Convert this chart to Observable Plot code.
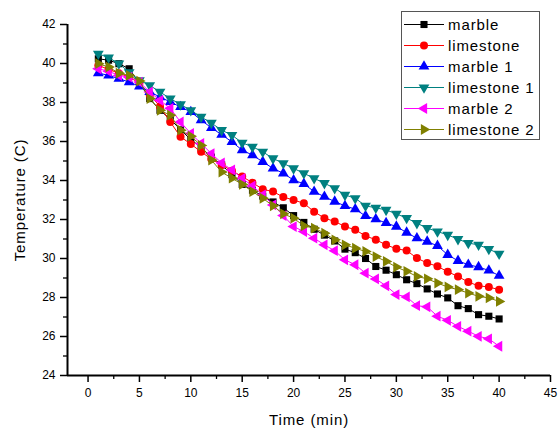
<!DOCTYPE html>
<html><head><meta charset="utf-8">
<script src="https://cdn.jsdelivr.net/npm/d3@7"></script>
<script src="https://cdn.jsdelivr.net/npm/@observablehq/plot@0.6"></script>
<style>
body{margin:0;background:#fff;}
#wrap{position:relative;width:558px;height:429px;font-family:"Liberation Sans",Arial,sans-serif;}
#legend{position:absolute;left:401px;top:11px;width:139px;height:129px;border:1px solid #555;background:#fff;box-sizing:border-box;padding-top:2px;}
.row{display:flex;align-items:center;height:21px;}
.row svg{margin-left:2px;margin-right:4px;}
.row span{font-size:15px;letter-spacing:0.9px;color:#000;}
</style></head><body><div id="wrap"></div>
<script>
const time = [1,2,3,4,5,6,7,8,9,10,11,12,13,14,15,16,17,18,19,20,21,22,23,24,25,26,27,28,29,30,31,32,33,34,35,36,37,38,39,40];
const seriesNames = ["marble","limestone","marble 1","limestone 1","marble 2","limestone 2"];
const colors = ["#000000","#ff0000","#0000ff","#008080","#ff00ff","#808000"];
const symbols = ["square","circle","triangle","triangle","triangle","triangle"];
const rotations = [0,0,0,180,-90,90];
const marble = [40.24,40.17,39.99,39.73,39.0,38.2,37.6,37.15,36.6,36.1,35.7,35.2,34.8,34.3,33.8,33.5,33.2,32.9,32.6,32.2,31.85,31.5,31.2,30.9,30.48,30.3,30.0,29.59,29.4,29.17,28.91,28.71,28.44,28.18,27.98,27.58,27.43,27.12,27.04,26.9];
const limestone = [39.9,39.7,39.5,39.3,39.0,38.4,37.8,37.0,36.24,35.87,35.47,35.1,34.8,34.5,34.2,33.89,33.55,33.43,33.15,33.0,32.83,32.4,32.07,31.9,31.64,31.47,31.16,30.96,30.7,30.5,30.41,30.02,29.77,29.6,29.32,29.08,28.79,28.6,28.54,28.4];
const marble1 = [39.51,39.39,39.22,39.05,38.83,38.55,38.28,38.03,37.77,37.52,37.1,36.7,36.35,35.98,35.56,35.3,34.96,34.62,34.37,34.02,33.83,33.43,33.17,32.92,32.7,32.53,32.18,32.02,31.82,31.64,31.33,31.04,30.87,30.65,30.19,29.88,29.68,29.56,29.39,29.12];
const limestone1 = [40.5,40.3,40.0,39.55,39.14,38.88,38.54,38.2,37.9,37.6,37.26,36.95,36.58,36.33,35.93,35.73,35.47,35.13,34.88,34.62,34.37,34.11,33.86,33.6,33.26,33.09,32.7,32.6,32.49,32.29,32.07,31.81,31.56,31.38,31.21,30.99,30.79,30.7,30.48,30.24];
const marble2 = [39.73,39.6,39.39,39.3,39.05,38.54,38.11,37.7,37.0,36.41,35.9,35.38,34.9,34.54,34.11,33.72,33.26,32.75,32.2,31.64,31.38,31.04,30.7,30.4,29.93,29.68,29.25,28.95,28.6,28.15,28.03,27.58,27.52,27.04,26.83,26.52,26.27,26.01,25.88,25.5];
const limestone2 = [39.99,39.82,39.5,39.39,39.1,38.2,37.6,37.35,36.58,36.27,35.8,35.05,34.43,34.12,33.8,33.43,33.09,32.7,32.29,32.07,31.67,31.56,31.3,30.96,30.7,30.53,30.36,30.1,29.85,29.56,29.34,29.08,28.96,28.74,28.54,28.4,28.23,28.06,27.98,27.8];
const xDomain = [-2, 45];
const yDomain = [24, 42];
const xTicks = [0,5,10,15,20,25,30,35,40,45];
const xMinor = [2.5,7.5,12.5,17.5,22.5,27.5,32.5,37.5,42.5];
const yTicks = [24,26,28,30,32,34,36,38,40,42];
const yMinor = [25,27,29,31,33,35,37,39,41];

const allSeries = [marble, limestone, marble1, limestone1, marble2, limestone2];
const rows = [];
allSeries.forEach((vals, si) => vals.forEach((v, i) => rows.push({t: time[i], temp: v, s: seriesNames[si]})));

const marks = [];
marks.push(Plot.axisX({ticks: xMinor, tickSize: 4, tickFormat: () => "", label: null, strokeWidth: 1.3}));
marks.push(Plot.axisX({ticks: xTicks, tickSize: 7, tickPadding: 6, label: null, fontSize: 12, strokeWidth: 1.5}));
marks.push(Plot.axisY({ticks: yMinor, tickSize: 4, tickFormat: () => "", label: null, strokeWidth: 1.3}));
marks.push(Plot.axisY({ticks: yTicks, tickSize: 7, tickPadding: 5, label: null, fontSize: 12, strokeWidth: 1.5}));
marks.push(Plot.ruleY([yDomain[0]], {stroke: "#000", strokeWidth: 2}));
marks.push(Plot.ruleX([xDomain[0]], {stroke: "#000", strokeWidth: 2}));
seriesNames.forEach((name, si) => {
  const d = rows.filter(r => r.s === name);
  marks.push(Plot.line(d, {x: "t", y: "temp", stroke: colors[si], strokeWidth: 1}));
  marks.push(Plot.dot(d, {x: "t", y: "temp", fill: colors[si], stroke: "none", symbol: symbols[si], r: 4, rotate: rotations[si]}));
});
marks.push(Plot.text(["Time (min)"], {frameAnchor: "bottom", lineAnchor: "middle", dy: 45, fontSize: 15, fill: "#000"}));
marks.push(Plot.text(["Temperature (C)"], {frameAnchor: "left", textAnchor: "middle", lineAnchor: "middle", rotate: -90, dx: -47, fontSize: 15, fill: "#000"}));

const chart = Plot.plot({
  width: 558, height: 429,
  marginLeft: 67, marginRight: 8, marginTop: 24, marginBottom: 54,
  x: {domain: xDomain},
  y: {domain: yDomain},
  style: {fontFamily: "'Liberation Sans', Arial, sans-serif", color: "#000", background: "#fff"},
  marks
});
const wrap = document.getElementById("wrap");
wrap.appendChild(chart);
chart.querySelectorAll("text").forEach(t => {
  if (t.textContent === "Time (min)" || t.textContent === "Temperature (C)") t.setAttribute("letter-spacing", "0.9");
});

const legend = document.createElement("div");
legend.id = "legend";
seriesNames.forEach((name, si) => {
  const row = document.createElement("div");
  row.className = "row";
  const sym = {square: d3.symbolSquare, circle: d3.symbolCircle, triangle: d3.symbolTriangle}[symbols[si]];
  const path = d3.symbol(sym, Math.PI * 16)();
  row.innerHTML = `<svg width="40" height="21"><line x1="0" x2="40" y1="10.5" y2="10.5" stroke="${colors[si]}" stroke-width="1"/><path d="${path}" fill="${colors[si]}" transform="translate(20,10.5) rotate(${rotations[si]})"/></svg><span>${name}</span>`;
  legend.appendChild(row);
});
wrap.appendChild(legend);
</script>
</body></html>
